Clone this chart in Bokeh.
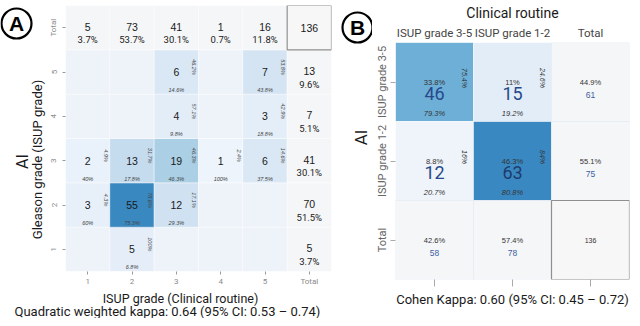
import math
from bokeh.plotting import figure
from bokeh.models import (FactorRange, Range1d, CategoricalAxis, CategoricalTicker)
from bokeh.layouts import row, column
from bokeh.embed import file_html
from bokeh.resources import INLINE
from bokeh.core.properties import value

# ---------------- Data: panel A ----------------
a_grades = ["1", "2", "3", "4", "5"]
a_total = "Total"
# counts: AI (Gleason/ISUP) grade rows, clinical ISUP grade columns 1..5
a_ai_1 = [0, 5, 0, 0, 0]
a_ai_2 = [3, 55, 12, 0, 0]
a_ai_3 = [2, 13, 19, 1, 6]
a_ai_4 = [0, 0, 4, 0, 3]
a_ai_5 = [0, 0, 6, 0, 7]
a_counts = [a_ai_1, a_ai_2, a_ai_3, a_ai_4, a_ai_5]
a_tag = "A"
a_xlabel = "ISUP grade (Clinical routine)"
a_ylabel = "Gleason grade (ISUP grade)"
a_ytitle = "AI"
a_kappa = "Quadratic weighted kappa: 0.64 (95% CI: 0.53 \u2013 0.74)"

# ---------------- Data: panel B ----------------
b_cols = ["ISUP grade 3-5", "ISUP grade 1-2"]
b_rows = ["ISUP grade 3-5", "ISUP grade 1-2"]
b_total = "Total"
b_ai_35 = [46, 15]
b_ai_12 = [12, 63]
b_counts = [b_ai_35, b_ai_12]
b_tag = "B"
b_xtitle = "Clinical routine"
b_ytitle = "AI"
b_kappa = "Cohen Kappa: 0.60 (95% CI: 0.45 \u2013 0.72)"

# ---------------- Styles ----------------
a_fill = [  # same layout as a_counts (rows AI 1..5)
    ["#eef3f9", "#e5eef8", "#eef3f9", "#eef3f9", "#eef3f9"],
    ["#e7f0f9", "#3a88c0", "#d0e2f2", "#eef3f9", "#eef3f9"],
    ["#e9f1fa", "#c5dbee", "#abcfe5", "#eef4fb", "#dae8f5"],
    ["#eef3f9", "#eef3f9", "#e2edf8", "#eef3f9", "#e4eef8"],
    ["#eef3f9", "#eef3f9", "#dae8f5", "#eef3f9", "#d4e4f3"],
]
b_fill = [["#6dafd7", "#e3edf8"], ["#eff4fa", "#3a88c1"]]
b_numcol = [["#27498a", "#27498a"], ["#27498a", "#1d3c6e"]]
total_fill = "#f5f6f7"
NARROW = "Roboto"
SANS = "Liberation Sans"


def pct(n, d):
    v = round(100.0 * n / d, 1)
    s = f"{v:.1f}".rstrip("0").rstrip(".")
    return s + "%"


def strip(w, h):
    """A plain drawing strip (no axes) whose units are pixels from its top-left corner."""
    s = figure(width=w, height=h, x_range=Range1d(0, w), y_range=Range1d(h, 0),
               x_axis_location=None, y_axis_location=None, output_backend="svg",
               toolbar_location=None, min_border=0)
    s.min_border_left = s.min_border_right = s.min_border_top = s.min_border_bottom = 0
    s.grid.visible = False
    s.outline_line_color = None
    s.frame_align = False
    return s


def tag(s, letter, x, y):
    s.scatter(x=[x], y=[y], marker="circle", size=30, fill_color=None,
              line_color="black", line_width=2.2)
    s.text(x=[x], y=[y], text=[letter], text_align="center", text_baseline="middle",
           text_font=value(SANS), text_font_size="21px", text_font_style="bold", text_color="black")


# ======================= Panel A =======================
xA = a_grades + [a_total]
yA = a_grades + [a_total]
N = sum(sum(r) for r in a_counts)
a_rowtot = [sum(r) for r in a_counts]
a_coltot = [sum(a_counts[i][j] for i in range(5)) for j in range(5)]

pA = figure(width=292, height=288, x_range=FactorRange(*xA), y_range=FactorRange(*yA),
            output_backend="svg", toolbar_location=None,
            min_border_left=17, min_border_right=7, min_border_top=5, min_border_bottom=15)
pA.frame_align = False

cx, cy, cc = [], [], []
tx, ty, tt = [], [], []
rx, ry, rt = [], [], []
bx, by, bt = [], [], []
for i, g_ai in enumerate(a_grades):
    for j, g_cl in enumerate(a_grades):
        n = a_counts[i][j]
        cx.append(g_cl); cy.append(g_ai); cc.append(a_fill[i][j])
        if n > 0:
            tx.append(g_cl); ty.append(g_ai); tt.append(str(n))
            rx.append(g_cl); ry.append(g_ai); rt.append(pct(n, a_rowtot[i]))
            bx.append(g_cl); by.append(g_ai); bt.append(pct(n, a_coltot[j]))
for i, g in enumerate(a_grades):
    cx.append(a_total); cy.append(g); cc.append(total_fill)
    cx.append(g); cy.append(a_total); cc.append(total_fill)

pA.rect(x=cx, y=cy, width=1, height=1, fill_color=cc, line_color="white", line_alpha=0.5, line_width=0.8)
pA.rect(x=[a_total], y=[a_total], width=1, height=1, fill_color="#f7f7f7",
        line_color="#8f8f8f", line_width=1.2)

pA.text(x=tx, y=ty, text=tt, text_align="center", text_baseline="middle",
        text_font=value(SANS), text_font_size="10.5px", text_color="#1a1a1a")
pA.text(x=rx, y=ry, text=rt, angle=-math.pi / 2, x_offset=18, y_offset=-5,
        text_align="center", text_baseline="middle", text_font=value(SANS),
        text_font_size="5.5px", text_font_style="italic", text_color="#444444")
pA.text(x=bx, y=by, text=bt, y_offset=18, text_align="center", text_baseline="middle",
        text_font=value(SANS), text_font_size="5.5px", text_font_style="italic", text_color="#444444")

tot_x = [a_total] * 5 + a_grades
tot_y = a_grades + [a_total] * 5
tot_n = a_rowtot + a_coltot
pA.text(x=tot_x, y=tot_y, text=[str(n) for n in tot_n], y_offset=-1,
        text_align="center", text_baseline="middle", text_font=value(SANS),
        text_font_size="10.5px", text_color="#1a1a1a")
pA.text(x=tot_x, y=tot_y, text=[pct(n, N) for n in tot_n], y_offset=12,
        text_align="center", text_baseline="middle", text_font=value(NARROW),
        text_font_size="9.5px", text_color="#1a1a1a")
pA.text(x=[a_total], y=[a_total], text=[str(N)], text_align="center", text_baseline="middle",
        text_font=value(SANS), text_font_size="10.5px", text_color="#1a1a1a")

for ax in (pA.xaxis[0], pA.yaxis[0]):
    ax.axis_line_color = None
    ax.major_tick_line_color = "#9a9a9a"
    ax.major_tick_out = 3
    ax.major_tick_in = 0
    ax.major_label_standoff = 4
    ax.major_label_text_font = NARROW
    ax.major_label_text_font_size = "8px"
    ax.major_label_text_color = "#8a8a8a"
pA.xaxis[0].major_label_standoff = 2
pA.yaxis[0].major_label_orientation = "vertical"
pA.grid.visible = False
pA.outline_line_color = None

# left strip of panel A: tag, axis titles
sA = strip(46, 288)
tag(sA, a_tag, 16, 23)
sA.text(x=[22], y=[161], text=[a_ytitle], angle=math.pi / 2, text_align="center",
        text_baseline="middle", text_font=value(NARROW), text_font_size="16px", text_color="#1a1a1a")
sA.text(x=[37], y=[159], text=[a_ylabel], angle=math.pi / 2, text_align="center",
        text_baseline="middle", text_font=value(NARROW), text_font_size="13px", text_color="#1a1a1a")

# bottom strip of panel A: x title and kappa
kA = strip(338, 30)
kA.text(x=[180], y=[10], text=[a_xlabel], text_align="center", text_baseline="middle",
        text_font=value(NARROW), text_font_size="12.5px", text_color="#1a1a1a")
kA.text(x=[14], y=[23], text=[a_kappa], text_align="left", text_baseline="middle",
        text_font=value(NARROW), text_font_size="13px", text_color="#1a1a1a")

# ======================= Panel B =======================
xB = b_cols + [b_total]
yB = [b_total] + b_rows[::-1]
NB = sum(sum(r) for r in b_counts)
b_rowtot = [sum(r) for r in b_counts]
b_coltot = [sum(b_counts[i][j] for i in range(2)) for j in range(2)]

pB = figure(width=260, height=318, x_range=FactorRange(*xB), y_range=FactorRange(*yB),
            x_axis_location="above", output_backend="svg", toolbar_location=None,
            min_border_left=20, min_border_right=3, min_border_top=42, min_border_bottom=39)
pB.frame_align = False

ex, ey, ec, en, enc = [], [], [], [], []
for i, r in enumerate(b_rows):
    for j, c in enumerate(b_cols):
        ex.append(c); ey.append(r); ec.append(b_fill[i][j]); en.append(b_counts[i][j]); enc.append(b_numcol[i][j])
pB.rect(x=ex, y=ey, width=1, height=1, fill_color=ec, line_color="white", line_alpha=0.6, line_width=0.8)
tbx = [b_total] * 2 + b_cols
tby = b_rows + [b_total] * 2
tbn = b_rowtot + b_coltot
pB.rect(x=tbx, y=tby, width=1, height=1, fill_color=total_fill, line_color="#e3ebf5", line_width=0.8)
pB.rect(x=[b_total], y=[b_total], width=1, height=1, fill_color="#f7f7f7",
        line_color="#8f8f8f", line_width=1.2)

pB.text(x=ex, y=ey, text=[pct(n, NB) for n in en], text_align="center", text_baseline="middle",
        text_font=value(SANS), text_font_size="7.5px", text_color="#333333")
pB.text(x=ex, y=ey, text=[str(n) for n in en], y_offset=11, text_align="center", text_baseline="middle",
        text_font=value(NARROW), text_font_size="18px", text_color=enc)
pB.text(x=ex, y=ey, text=[pct(en[k], b_rowtot[k // 2]) for k in range(4)], angle=-math.pi / 2,
        x_offset=30, y_offset=-4, text_align="center", text_baseline="middle",
        text_font=value(SANS), text_font_size="7px", text_font_style="italic", text_color="#333333")
pB.text(x=ex, y=ey, text=[pct(en[k], b_coltot[k % 2]) for k in range(4)], y_offset=31,
        text_align="center", text_baseline="middle", text_font=value(SANS),
        text_font_size="7.5px", text_font_style="italic", text_color="#333333")
pB.text(x=tbx, y=tby, text=[pct(n, NB) for n in tbn], text_align="center", text_baseline="middle",
        text_font=value(SANS), text_font_size="7.5px", text_color="#333333")
pB.text(x=tbx, y=tby, text=[str(n) for n in tbn], y_offset=13, text_align="center", text_baseline="middle",
        text_font=value(SANS), text_font_size="8.5px", text_color="#3d5fa3")
pB.text(x=[b_total], y=[b_total], text=[str(NB)], text_align="center", text_baseline="middle",
        text_font=value(SANS), text_font_size="7px", text_color="#333333")

top = pB.xaxis[0]
top.axis_line_color = None
top.major_tick_line_color = None
top.major_tick_out = 0
top.major_label_standoff = 3
top.major_label_text_font = NARROW
top.major_label_text_font_size = "11.5px"
top.major_label_text_color = "#444444"
top.axis_label = b_xtitle
top.axis_label_standoff = 2
top.axis_label_text_font = NARROW
top.axis_label_text_font_style = "normal"
top.axis_label_text_font_size = "14px"
top.axis_label_text_color = "#1a1a1a"

left = pB.yaxis[0]
left.axis_line_color = None
left.major_tick_line_color = "#aaaaaa"
left.major_tick_out = 5
left.major_tick_in = 0
left.major_label_standoff = 2
left.major_label_orientation = "vertical"
left.major_label_text_font = NARROW
left.major_label_text_font_size = "11px"
left.major_label_text_color = "#666666"

bottom = CategoricalAxis(ticker=CategoricalTicker())
bottom.axis_line_color = None
bottom.major_tick_line_color = "#aaaaaa"
bottom.major_tick_out = 7
bottom.major_tick_in = 0
bottom.major_label_standoff = 0
bottom.major_label_text_font_size = "1px"
bottom.major_label_text_color = None
bottom.axis_label = b_kappa
bottom.axis_label_standoff = 5
bottom.axis_label_text_font = NARROW
bottom.axis_label_text_font_style = "normal"
bottom.axis_label_text_font_size = "13px"
bottom.axis_label_text_color = "#1a1a1a"
pB.add_layout(bottom, "below")

pB.grid.visible = False
pB.outline_line_color = None

# left strip of panel B: tag and AI title
sB = strip(34, 318)
tag(sB, b_tag, 19, 27)
sB.text(x=[22], y=[137], text=[b_ytitle], angle=math.pi / 2, text_align="center",
        text_baseline="middle", text_font=value(NARROW), text_font_size="17px", text_color="#1a1a1a")

layout = row(column(row(sA, pA), kA), sB, pB)
open("out.html", "w").write(file_html(layout, INLINE))
